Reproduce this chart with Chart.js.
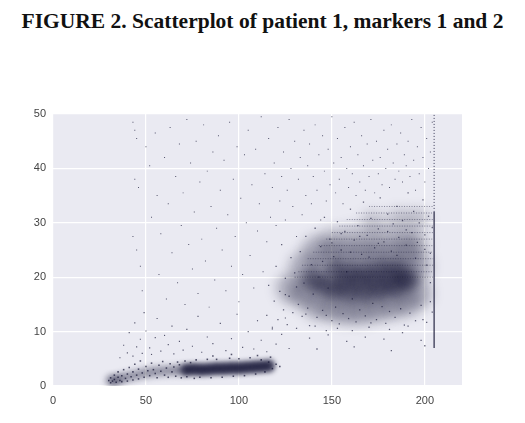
<!DOCTYPE html>
<html>
<head>
<meta charset="utf-8">
<script src="https://cdn.jsdelivr.net/npm/chart.js@4.4.1/dist/chart.umd.min.js"></script>
<style>
  body { margin: 0; background: #fff; }
  #title {
    position: absolute; left: 0; top: 9px; width: 525px; text-align: center;
    font-family: "Liberation Serif", serif; font-weight: bold; font-size: 21.5px; color: #111;
  }
  #wrap { position: absolute; left: 0; top: 0; width: 525px; height: 423px; }
</style>
</head>
<body>
<div id="title">FIGURE 2. Scatterplot of patient 1, markers 1 and 2</div>
<div id="wrap"><canvas id="scatterChart"></canvas></div>
<script>
// axis ticks
const xTicks = [0, 50, 100, 150, 200];
const yTicks = [0, 10, 20, 30, 40, 50];

// low population: density centres and single events
const lowBlobDark = [[72,3.0],[76,3.1],[80,3.0],[84,3.1],[88,3.2],[92,3.2],[96,3.3],[100,3.3],[104,3.4],
  [108,3.5],[112,3.6],[116,3.7]];
const lowBlobLight = [[31,1.0],[33,1.0],[35,1.2],[38,1.5],[42,1.8],[46,2.1],[50,2.4],[54,2.6],[58,2.7],
  [62,2.8],[66,2.9],[69,2.9]];

const lowSpread = [[30,1.0],[31,0.6],[31,1.5],[32,0.9],[33,2.0],[33,1.2],[34,0.7],[35,1.6],[35,2.6],[36,1.0],
  [37,1.9],[37,0.8],[38,3.0],[39,1.4],[40,2.2],[40,0.9],[41,3.4],[42,1.7],[43,2.6],[43,1.1],[44,4.0],[45,2.0],
  [46,3.1],[46,1.3],[47,4.6],[48,2.4],[49,1.6],[50,3.6],[51,2.8],[52,1.9],[53,4.2],[54,3.0],[55,2.3],[56,1.5],
  [57,3.8],[58,2.7],[59,4.5],[60,2.0],[61,3.3],[62,1.6],[63,4.1],[64,2.6],[65,3.5],[66,1.8],[67,4.4],[68,3.9],
  [69,1.5],[71,4.6],[72,1.7],[74,4.3],[76,1.4],[77,4.8],[79,1.6],[83,4.9],[85,1.5],[88,4.9],[91,1.6],[95,5.1],
  [97,1.8],[100,5.0],[103,1.9],[106,5.2],[109,2.2],[112,4.8],[114,2.6],[116,4.4],[118,3.2],[120,4.0],[122,3.6],
  [117,5.3],[110,5.6],[96,5.8],[86,5.5]];

const lowScatter = [[36,5.2],[38,7.5],[40,6.1],[41,9.8],[43,5.5],[44,11.6],[45,7.2],[47,8.6],[48,6.0],[49,13.5],
  [50,10.1],[52,7.0],[53,5.8],[55,8.9],[56,12.4],[58,6.4],[60,9.3],[62,7.6],[64,11.0],[65,5.9],[68,8.2],[70,6.6],
  [72,10.4],[75,7.3],[78,12.8],[80,6.2],[83,9.0],[86,7.8],[90,11.5],[93,6.5],[96,8.7],[99,13.2],[102,7.1],
  [105,10.0],[108,6.8],[110,12.0],[112,8.4],[115,6.3],[118,10.8],[120,7.7],[123,9.5],[125,12.5],[127,6.9]];

// high population: density centres
const highBlobOuter = [[128,18],[135,17],[135,22],[142,15],[142,20],[142,25],[150,14.5],[150,19],[150,24],
  [158,14],[158,19],[158,24],[166,14],[166,19],[166,24],[174,14.5],[174,19],[174,24],[182,15],[182,19.5],
  [182,24],[190,15.5],[190,20],[190,24.5],[196,17],[196,22]];
const highBlobInner = [[140,19.5],[146,18.5],[152,17.5],[152,21.5],[160,17],[160,21],[168,17],[168,21],
  [176,17.5],[176,21.5],[184,18],[184,21.5],[191,19.5],[156,19.2],[164,19.2],[172,19.3],[180,19.6],[188,19.8]];
const highBlobTop = [[150,27],[160,27.5],[170,27],[180,27.5],[190,27],[196,26],[172,30],[186,30.5],[196,30.5]];

// quantised rows above the high population
const stripeY = [20.0, 21.0, 22.2, 23.4, 24.6, 25.8, 27.0, 28.2, 29.4, 30.6, 31.8, 33.0];
const stripeStart = [130, 132, 134, 137, 140, 143, 147, 150, 154, 158, 163, 170];

const highSpread = [[115,13.0],[116,18.5],[118,10.5],[119,15.6],[120,22.0],[121,12.2],[122,17.4],[123,26.0],
  [124,14.0],[125,19.8],[126,11.3],[127,16.5],[128,23.6],[129,13.5],[130,20.8],[131,10.6],[132,15.0],[133,24.7],
  [134,12.8],[135,18.9],[136,27.5],[137,14.3],[138,11.1],[139,22.3],[140,16.9],[141,29.0],[142,12.6],[143,20.0],
  [144,25.6],[145,13.9],[146,31.0],[147,10.2],[148,18.0],[149,27.0],[150,12.0],[151,23.8],[152,14.5],[153,30.2],
  [154,11.4],[155,25.0],[156,13.3],[157,28.4],[158,21.0],[159,12.4],[160,32.5],[161,16.0],[162,26.8],[163,11.8],
  [164,29.5],[165,14.0],[166,24.2],[167,33.8],[168,12.9],[169,27.7],[170,10.8],[171,30.8],[172,15.2],[173,25.4],
  [174,12.2],[175,28.9],[176,34.6],[177,14.6],[178,26.5],[179,11.5],[180,31.6],[181,13.7],[182,24.8],[183,29.8],
  [184,12.6],[185,33.0],[186,27.3],[187,14.2],[188,30.4],[189,11.2],[190,25.9],[191,35.5],[192,13.4],[193,28.2],
  [194,32.1],[195,12.0],[196,26.4],[197,30.0],[198,14.8],[199,34.2],[200,27.8],[201,11.7],[202,31.2],[203,24.4],
  [204,29.1],[204,13.6],[145,22.9],[150,26.3],[155,28.0],[160,24.6],[165,27.5],[170,23.7],[175,26.2],[180,28.4],
  [185,24.0],[190,28.7],[195,23.5],[200,25.1],[138,8.8],[148,9.4],[158,8.2],[168,9.0],[178,8.6],[188,9.8],
  [198,8.4],[142,6.8],[162,7.2],[182,6.5],[200,7.4],[125,16.8],[131,18.2],[136,13.2],[141,11.0],[147,13.0],
  [153,10.6],[161,10.2],[171,11.6],[181,10.4],[191,11.0],[199,12.2],[203,15.5],[203,19.0],[201,22.2]];

// sparse events across the upper part
const sparse = [[43,48.5],[44,47.0],[45,45.5],[44,38.0],[46,36.5],[43,27.5],[45,25.0],[47,22.0],[48,17.5],
  [50,44.0],[52,40.5],[53,31.0],[55,46.5],[56,35.0],[57,20.5],[58,28.0],[60,42.0],[61,16.0],[62,33.5],[63,47.5],
  [64,24.5],[66,38.5],[67,19.0],[68,44.5],[69,29.5],[70,35.5],[71,15.0],[72,49.0],[73,26.0],[74,41.0],[75,21.5],
  [76,32.0],[77,45.0],[78,17.0],[79,37.5],[80,27.0],[81,48.0],[82,23.0],[83,39.5],[84,14.5],[85,33.0],[86,43.0],
  [87,19.5],[88,29.0],[89,46.0],[90,36.0],[91,25.0],[92,41.5],[93,17.5],[94,31.5],[95,48.5],[96,22.0],[97,38.0],
  [98,27.5],[99,44.0],[100,15.5],[101,34.5],[102,20.5],[103,42.5],[104,30.0],[105,47.0],[106,24.0],[107,37.0],
  [108,18.0],[109,43.5],[110,28.5],[111,33.5],[112,49.5],[113,21.0],[114,39.0],[115,26.5],[116,45.5],[117,31.0],
  [118,36.5],[119,41.0],[120,29.5],[121,47.5],[122,34.0],[123,38.5],[124,43.0],[125,30.5],[126,36.0],[127,49.0],
  [128,40.0],[129,33.0],[130,45.0],[131,27.5],[132,38.0],[133,42.0],[134,31.5],[135,47.0],[136,35.0],[137,40.5],
  [138,44.5],[139,33.5],[140,38.5],[141,48.0],[142,36.0],[143,42.5],[144,30.5],[145,46.0],[146,39.5],[147,34.0],
  [148,43.5],[149,37.0],[150,49.5],[151,41.0],[152,35.5],[153,45.5],[154,38.0],[155,42.0],[156,33.5],[157,47.5],
  [158,40.0],[159,36.5],[160,44.0],[161,39.0],[162,48.5],[163,35.0],[164,42.5],[165,37.5],[166,46.0],[167,40.5],
  [168,36.0],[169,44.5],[170,38.5],[171,49.0],[172,41.5],[173,35.5],[174,45.0],[175,39.0],[176,42.0],[177,37.0],
  [178,47.0],[179,40.0],[180,43.5],[181,36.5],[182,48.0],[183,41.0],[184,38.0],[185,44.5],[186,39.5],[187,46.5],
  [188,37.5],[189,42.5],[190,40.5],[191,45.0],[192,38.5],[193,49.0],[194,41.5],[195,36.0],[196,44.0],[197,39.0],
  [198,47.5],[199,42.0],[200,37.5],[201,45.5],[202,40.0],[203,43.0],[204,48.5]];

// saturated marker 1 values piled up at the right edge
const edgeDense = [[205,7],[205,32]];
const edgeLight = [[205,32],[205,50]];

const toXY = arr => arr.map(p => ({ x: p[0], y: p[1] }));
const dot = a => `rgba(18,18,50,${a})`;

const plotBg = {
  id: 'plotBg',
  beforeDraw(chart) {
    const { ctx, chartArea: a } = chart;
    ctx.save();
    ctx.fillStyle = '#EAEAF2';
    ctx.fillRect(a.left, a.top, a.right - a.left, a.bottom - a.top);
    ctx.restore();
  }
};

// soften the density clouds
const softBlur = {
  id: 'softBlur',
  beforeDatasetDraw(chart, args) {
    const b = chart.data.datasets[args.index].blur;
    if (b) { chart.ctx.save(); chart.ctx.filter = `blur(${b}px)`; }
  },
  afterDatasetDraw(chart, args) {
    if (chart.data.datasets[args.index].blur) chart.ctx.restore();
  }
};

function pts(data, r, a, style, blur) {
  return {
    data: toXY(data), pointRadius: r, pointHoverRadius: r, pointStyle: style || 'rect',
    backgroundColor: dot(a), pointBorderWidth: 0, borderWidth: 0, blur: blur || 0
  };
}

function seg(points, a, w, dash) {
  return { data: toXY(points), showLine: true, borderColor: dot(a), borderWidth: w, borderDash: dash || [], pointRadius: 0 };
}

const stripes = stripeY.map((y, i) => seg([[stripeStart[i], y], [204.5, y]], 0.45, 1, [1, 1.5]));

new Chart(document.getElementById('scatterChart'), {
  type: 'scatter',
  data: {
    datasets: [
      pts(highBlobOuter, 15, 0.28, 'circle', 6),
      pts(highBlobTop, 12, 0.2, 'circle', 6),
      pts(highBlobInner, 10, 0.42, 'circle', 5),
      pts(lowBlobLight, 5, 0.4, 'circle', 3),
      pts(lowBlobDark, 6.5, 0.8, 'circle', 2.5),
      ...stripes,
      pts(sparse, 0.7, 0.7),
      pts(highSpread, 0.9, 0.65),
      pts(lowScatter, 0.8, 0.7),
      pts(lowSpread, 1.1, 0.7),
      seg(edgeDense, 0.9, 1.2),
      seg(edgeLight, 0.8, 1, [1, 2])
    ]
  },
  plugins: [plotBg, softBlur],
  options: {
    responsive: true,
    maintainAspectRatio: false,
    animation: false,
    layout: { padding: { top: 114, left: 13, right: 63, bottom: 7 } },
    plugins: { legend: { display: false }, tooltip: { enabled: false } },
    scales: {
      x: {
        type: 'linear', min: 0, max: 220,
        afterBuildTicks: s => { s.ticks = xTicks.map(v => ({ value: v })); },
        afterFit: s => { s.height = 30; },
        grid: { color: '#ffffff', lineWidth: 1.2, drawTicks: false },
        border: { display: false },
        ticks: { color: '#444', padding: 8, font: { family: 'Liberation Sans', size: 11 } }
      },
      y: {
        type: 'linear', min: 0, max: 50,
        afterBuildTicks: s => { s.ticks = yTicks.map(v => ({ value: v })); },
        afterFit: s => { s.width = 40; },
        grid: { color: '#ffffff', lineWidth: 1.2, drawTicks: false },
        border: { display: false },
        ticks: { color: '#444', padding: 7, font: { family: 'Liberation Sans', size: 11 } }
      }
    }
  }
});
</script>
</body>
</html>
